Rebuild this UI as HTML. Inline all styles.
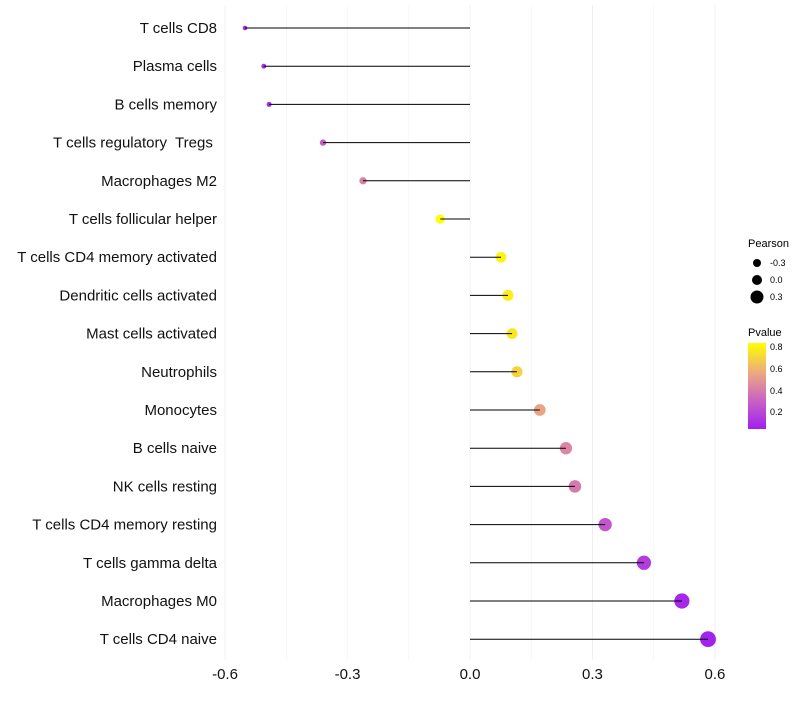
<!DOCTYPE html>
<html><head><meta charset="utf-8"><style>
body{margin:0;background:#fff;font-family:"Liberation Sans",sans-serif;}
text{white-space:pre;}
</style></head><body>
<svg id="chart" width="800" height="700" xmlns="http://www.w3.org/2000/svg">
<defs><linearGradient id="pg" x1="0" y1="1" x2="0" y2="0">
<stop offset="0" stop-color="#A020F0"/><stop offset="0.35" stop-color="#CC66C0"/><stop offset="0.65" stop-color="#EBA882"/><stop offset="1" stop-color="#FFFF00"/></linearGradient></defs>
<g id="grid"></g><g id="pts"></g><g id="marks"></g><g id="labels"></g>
<g font-size="10">
<text x="748" y="247" font-size="11">Pearson</text>
<circle cx="757" cy="263" r="4"/><text x="770" y="266" font-size="9">-0.3</text>
<circle cx="757" cy="280" r="5"/><text x="770" y="283" font-size="9">0.0</text>
<circle cx="757" cy="297" r="6.5"/><text x="770" y="300" font-size="9">0.3</text>
</g>
<g>
<text x="748" y="336" font-size="11">Pvalue</text>
<rect x="748" y="343" width="18" height="86" fill="url(#pg)"/>
<text x="770" y="350" font-size="9">0.8</text><text x="770" y="372" font-size="9">0.6</text>
<text x="770" y="394" font-size="9">0.4</text><text x="770" y="415" font-size="9">0.2</text>
</g>
</svg>
<script>
const cats=["T cells CD8","Plasma cells","B cells memory","T cells regulatory  Tregs ","Macrophages M2","T cells follicular helper","T cells CD4 memory activated","Dendritic cells activated","Mast cells activated","Neutrophils","Monocytes","B cells naive","NK cells resting","T cells CD4 memory resting","T cells gamma delta","Macrophages M0","T cells CD4 naive"];
const pearson=[-0.551,-0.505,-0.492,-0.36,-0.262,-0.073,0.076,0.093,0.103,0.115,0.171,0.235,0.257,0.331,0.426,0.519,0.583];
const pvals=[0.1,0.12,0.12,0.3,0.45,0.85,0.82,0.8,0.78,0.72,0.58,0.47,0.42,0.28,0.18,0.1,0.08];
const ticks=[-0.6,-0.3,0.0,0.3,0.6];
const NS="http://www.w3.org/2000/svg";
const X=v=>470+v*408.3, Y=i=>28+i*38.2;
const stops=[[0.07,[160,32,240]],[0.34,[204,102,192]],[0.6,[235,168,130]],[0.85,[255,255,0]]];
function col(p){p=Math.max(0.07,Math.min(0.85,p));for(let k=0;k<stops.length-1;k++){const a=stops[k],b=stops[k+1];if(p<=b[0]){const t=(p-a[0])/(b[0]-a[0]);const c=a[1].map((v,j)=>Math.round(v+(b[1][j]-v)*t));return `rgb(${c})`;}}return "rgb(255,255,0)";}
function mk(g,tag,at){const e=document.createElementNS(NS,tag);for(const k in at)e.setAttribute(k,at[k]);document.getElementById(g).appendChild(e);return e;}
for(let v=-0.6;v<=0.61;v+=0.15){const l=mk('grid','line',{x1:X(v),x2:X(v),y1:5,y2:660,stroke:'#f0f0f0','stroke-width':Math.abs((v*100)%30)<1?1:0.5});

}
ticks.forEach(t=>{const e=mk('labels','text',{x:X(t),y:679,'text-anchor':'middle','font-size':15,fill:'#111'});e.textContent=t.toFixed(1);

});
cats.forEach((c,i)=>{const y=Y(i);
const t=mk('labels','text',{x:217,y:y+5,'text-anchor':'end','font-size':15,fill:'#111'});t.textContent=c;


const p=mk('pts','circle',{cx:X(pearson[i]),cy:y,r:5+5*pearson[i],fill:col(pvals[i])});


const l=mk('marks','line',{x1:X(0),x2:X(pearson[i]),y1:y,y2:y,stroke:'#000','stroke-width':1});

});
</script>
</body></html>
